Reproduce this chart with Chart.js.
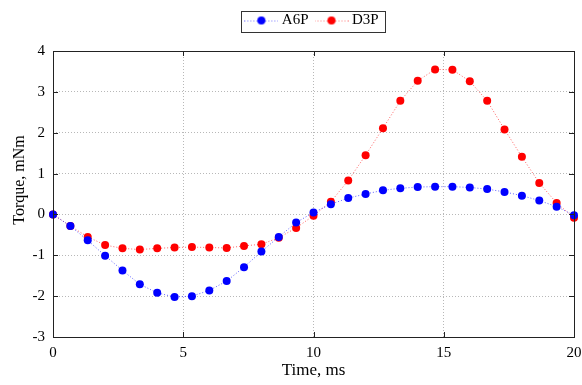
<!DOCTYPE html>
<html>
<head>
<meta charset="utf-8">
<script src="https://cdn.jsdelivr.net/npm/chart.js@4"></script>
<style>
  html, body { margin: 0; padding: 0; background: #fff; }
</style>
</head>
<body>
<canvas id="torqueChart" width="582" height="385"></canvas>
<script>
const timeMs = [0, 0.667, 1.333, 2, 2.667, 3.333, 4, 4.667, 5.333, 6, 6.667,
    7.333, 8, 8.667, 9.333, 10, 10.667, 11.333, 12, 12.667, 13.333, 14,
    14.667, 15.333, 16, 16.667, 17.333, 18, 18.667, 19.333, 20];
const a6p = [0, -0.285, -0.635, -1.01, -1.37, -1.71, -1.92, -2.02, -2.00, -1.86, -1.63,
    -1.29, -0.91, -0.55, -0.20, 0.05, 0.25, 0.40, 0.50, 0.59, 0.64, 0.67,
    0.68, 0.68, 0.66, 0.62, 0.55, 0.46, 0.34, 0.19, -0.02];
const d3p = [0, -0.285, -0.55, -0.75, -0.83, -0.86, -0.83, -0.81, -0.80, -0.81, -0.82,
    -0.77, -0.73, -0.57, -0.33, -0.03, 0.31, 0.83, 1.45, 2.11, 2.78, 3.27,
    3.55, 3.54, 3.26, 2.78, 2.08, 1.41, 0.77, 0.28, -0.08];
const xTicks = [0, 5, 10, 15, 20];
const yTicks = [-3, -2, -1, 0, 1, 2, 3, 4];

const serif = "'Liberation Serif', 'Times New Roman', serif";
const legendPad = 10;

const toPoints = (xs, ys) => xs.map((x, i) => ({ x: x, y: ys[i] }));

// small canvas used as legend marker: dotted line with a dot in the middle
const legendMarker = (color, lineColor) => {
    const c = document.createElement('canvas');
    c.width = 34;
    c.height = 10;
    const g = c.getContext('2d');
    g.strokeStyle = lineColor;
    g.lineWidth = 1;
    g.setLineDash([1, 2]);
    g.beginPath();
    g.moveTo(0, 5.5);
    g.lineTo(34, 5.5);
    g.stroke();
    g.fillStyle = color;
    g.beginPath();
    g.arc(17, 5, 4, 0, Math.PI * 2);
    g.fill();
    return c;
};

// legend centred over the plot area instead of the canvas, and pulled up
const legendShift = {
    id: 'legendShift',
    afterLayout: (chart) => {
        const lg = chart.legend;
        const a = chart.chartArea;
        const dx = (a.left + a.right) / 2 - (lg.left + lg.right) / 2;
        lg.left += dx;
        lg.right += dx;
        lg.top -= 13;
        lg.bottom -= 13;
    }
};

// axes box, inward ticks and legend border
const framePlugin = {
    id: 'frame',
    afterDraw: (chart) => {
        const ctx = chart.ctx;
        const a = chart.chartArea;
        const xs = chart.scales.x;
        const ys = chart.scales.y;
        ctx.save();
        ctx.strokeStyle = '#222';
        ctx.lineWidth = 1;
        ctx.setLineDash([]);
        ctx.strokeRect(a.left + 0.5, a.top + 0.5, a.right - a.left, a.bottom - a.top);
        ctx.beginPath();
        xTicks.forEach(t => {
            const px = Math.round(xs.getPixelForValue(t)) + 0.5;
            ctx.moveTo(px, a.bottom);
            ctx.lineTo(px, a.bottom - 5);
            ctx.moveTo(px, a.top);
            ctx.lineTo(px, a.top + 5);
        });
        yTicks.forEach(t => {
            const py = Math.round(ys.getPixelForValue(t)) + 0.5;
            ctx.moveTo(a.left, py);
            ctx.lineTo(a.left + 5, py);
            ctx.moveTo(a.right, py);
            ctx.lineTo(a.right - 5, py);
        });
        ctx.stroke();

        const lg = chart.legend;
        if (lg && lg.lineWidths) {
            const contentW = lg.lineWidths[0] - legendPad;
            const start = (lg.left + legendPad + lg.right - lg.lineWidths[0]) / 2;
            const left = Math.round(start - 7);
            const right = Math.round(start + contentW + 6);
            const top = Math.round(lg.top + legendPad - 2);
            ctx.strokeStyle = '#333';
            ctx.strokeRect(left + 0.5, top + 0.5, right - left, 21);
        }
        ctx.restore();
    }
};

const main = () => {
    const ctx = document.querySelector('#torqueChart').getContext('2d');
    new Chart(ctx, {
        type: 'line',
        data: {
            datasets: [
                {
                    label: 'A6P',
                    data: toPoints(timeMs, a6p),
                    borderColor: 'rgba(60, 60, 255, 0.8)',
                    backgroundColor: '#0000ff',
                    pointBackgroundColor: '#0000ff',
                    pointBorderWidth: 0,
                    pointRadius: 4,
                    borderWidth: 1,
                    borderDash: [1, 2],
                    tension: 0,
                    clip: false
                },
                {
                    label: 'D3P',
                    data: toPoints(timeMs, d3p),
                    borderColor: 'rgba(255, 60, 60, 0.8)',
                    backgroundColor: '#ff0000',
                    pointBackgroundColor: '#ff0000',
                    pointBorderWidth: 0,
                    pointRadius: 4,
                    borderWidth: 1,
                    borderDash: [1, 2],
                    tension: 0,
                    clip: false
                }
            ]
        },
        options: {
            responsive: false,
            animation: false,
            devicePixelRatio: 1,
            layout: { padding: { left: 0, right: 8, top: 16, bottom: 0 } },
            plugins: {
                tooltip: { enabled: false },
                legend: {
                    position: 'top',
                    labels: {
                        usePointStyle: true,
                        pointStyleWidth: 26,
                        padding: legendPad,
                        color: '#000',
                        font: { family: serif, size: 15 },
                        generateLabels: (chart) => [
                            { text: 'A6P', pointStyle: legendMarker('#0000ff', 'rgba(80,80,255,0.8)'), datasetIndex: 0, lineWidth: 0, strokeStyle: 'transparent', fillStyle: 'transparent', fontColor: '#000' },
                            { text: 'D3P', pointStyle: legendMarker('#ff0000', 'rgba(255,90,90,0.8)'), datasetIndex: 1, lineWidth: 0, strokeStyle: 'transparent', fillStyle: 'transparent', fontColor: '#000' }
                        ]
                    }
                }
            },
            scales: {
                x: {
                    type: 'linear',
                    min: 0,
                    max: 20,
                    afterFit: (scale) => {
                        scale.height = 48;
                        scale.paddingLeft = 0;
                        scale.paddingRight = 0;
                    },
                    afterBuildTicks: (scale) => { scale.ticks = xTicks.map(v => ({ value: v })); },
                    ticks: { color: '#000', font: { family: serif, size: 15 }, padding: 7, maxRotation: 0 },
                    grid: { color: '#b8b8b8', drawTicks: false },
                    border: { display: false, dash: [1, 2] },
                    title: { display: true, text: 'Time, ms', color: '#000', font: { family: serif, size: 17 }, padding: { top: 3 } }
                },
                y: {
                    min: -3,
                    max: 4,
                    afterFit: (scale) => { scale.width = 53; },
                    afterBuildTicks: (scale) => { scale.ticks = yTicks.map(v => ({ value: v })); },
                    ticks: { color: '#000', font: { family: serif, size: 15 }, padding: 8 },
                    grid: { color: '#b8b8b8', drawTicks: false },
                    border: { display: false, dash: [1, 2] },
                    // leading spaces nudge the rotated title up, as in the original figure
                    title: { display: true, text: '       Torque, mNm', color: '#000', font: { family: serif, size: 16 }, padding: { top: 10, bottom: 0 } }
                }
            }
        },
        plugins: [legendShift, framePlugin]
    });
};

window.addEventListener('DOMContentLoaded', main);
</script>
</body>
</html>
